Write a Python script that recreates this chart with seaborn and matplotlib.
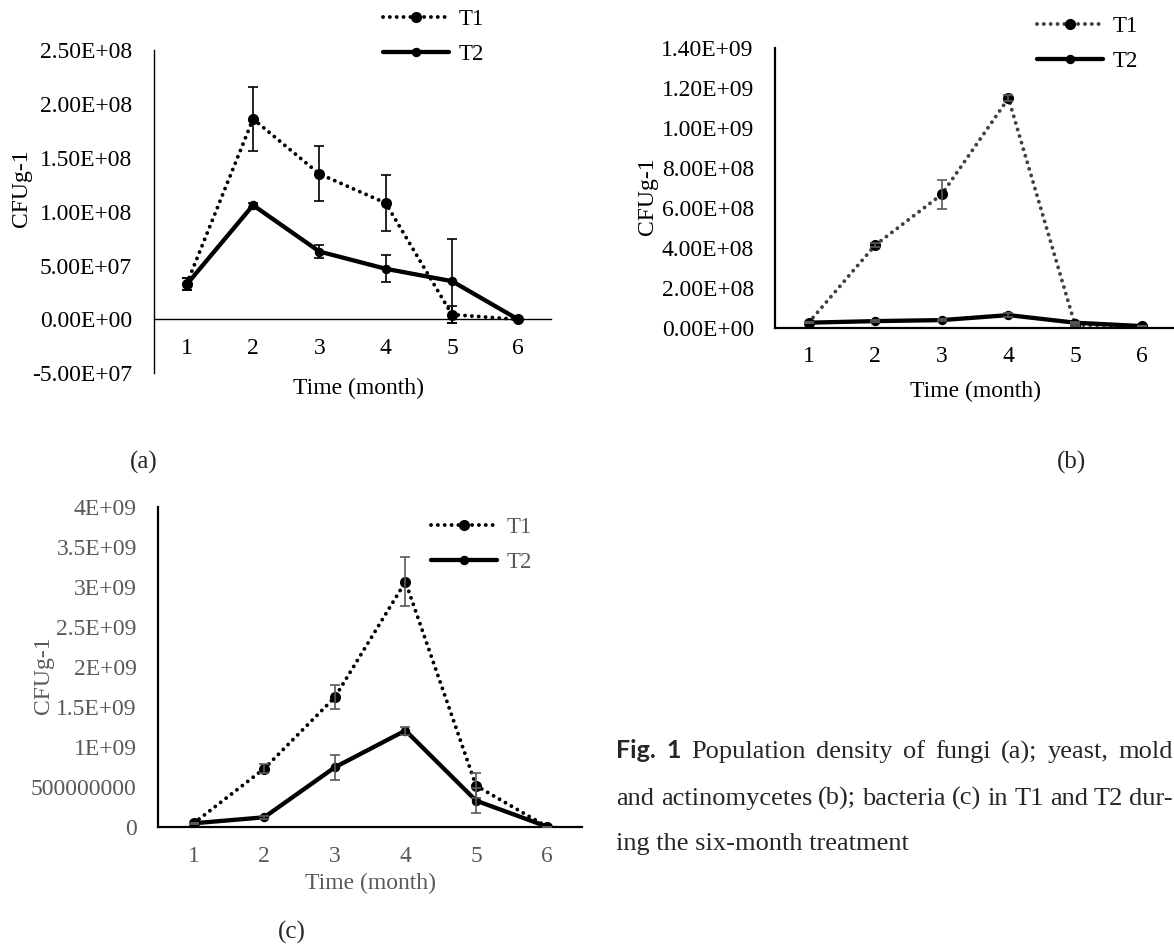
import numpy as np
import matplotlib
matplotlib.use("Agg")
import matplotlib.pyplot as plt
import seaborn as sns
from matplotlib.ticker import FixedLocator, FixedFormatter

# ---------------- data ----------------
months = [1, 2, 3, 4, 5, 6]
month_labels = ["1", "2", "3", "4", "5", "6"]

# (a) fungi
a_t1 = [3.3e7, 1.86e8, 1.35e8, 1.08e8, 0.45e7, 0.0]
a_t1_err = [0.55e7, 3.0e7, 2.55e7, 2.6e7, 0.8e7, 0.0]
a_t2 = [3.25e7, 1.06e8, 6.3e7, 4.7e7, 3.55e7, 0.0]
a_t2_err = [0.55e7, 0.2e7, 0.6e7, 1.24e7, 3.9e7, 0.0]
a_yticks = [-5e7, 0, 5e7, 1e8, 1.5e8, 2e8, 2.5e8]
a_yticklabels = ["-5.00E+07", "0.00E+00", "5.00E+07", "1.00E+08",
                 "1.50E+08", "2.00E+08", "2.50E+08"]

# (b) yeast, mold and actinomycetes
b_t1 = [2.5e7, 4.13e8, 6.67e8, 1.147e9, 1.35e7, 8e6]
b_t1_err = [0.3e7, 1.2e7, 7.3e7, 1.5e7, 0.3e7, 0.0]
b_t2 = [2.5e7, 3.3e7, 3.8e7, 6.3e7, 2.5e7, 8e6]
b_t2_err = [0.2e7, 0.3e7, 0.5e7, 0.8e7, 0.3e7, 0.1e7]
b_yticks = [0, 2e8, 4e8, 6e8, 8e8, 1e9, 1.2e9, 1.4e9]
b_yticklabels = ["0.00E+00", "2.00E+08", "4.00E+08", "6.00E+08",
                 "8.00E+08", "1.00E+09", "1.20E+09", "1.40E+09"]

# (c) bacteria
c_t1 = [5e7, 7.33e8, 1.625e9, 3.07e9, 5.2e8, 1e7]
c_t1_err = [1e7, 5.8e7, 1.5e8, 3.04e8, 1.55e8, 0.0]
c_t2 = [5e7, 1.25e8, 7.5e8, 1.21e9, 3.33e8, 1e7]
c_t2_err = [1e7, 2e7, 1.6e8, 5e7, 1.58e8, 0.0]
c_yticks = [0, 5e8, 1e9, 1.5e9, 2e9, 2.5e9, 3e9, 3.5e9, 4e9]
c_yticklabels = ["0", "500000000", "1E+09", "1.5E+09", "2E+09",
                 "2.5E+09", "3E+09", "3.5E+09", "4E+09"]

series_labels = ["T1", "T2"]
x_title = "Time (month)"
y_title = "CFUg-1"

caption_l1 = ["Population", "density", "of", "fungi", "(a);", "yeast,", "mold"]
caption_l2 = "and actinomycetes (b); bacteria (c) in T1 and T2 dur-"
caption_l3 = "ing the six-month treatment"

# ---------------- style ----------------
sns.set_style("white")
plt.rcParams["font.family"] = ["Liberation Serif", "DejaVu Serif"]

W, H = 1174, 949
fig = plt.figure(figsize=(W / 100, H / 100), dpi=100)


def axes_px(l, t, r, b):
    return fig.add_axes([l / W, 1 - b / H, (r - l) / W, (b - t) / H])


def panel(ax, t1, t1e, t2, t2e, ylim, yticks, yticklabels, t1_color,
          err_color, text_color, spine_w, zero_axis, ylab_xy, xlab_xy,
          leg_xy):
    ax.set_facecolor("none")
    sns.lineplot(x=months, y=t2, ax=ax, color="black", linewidth=3.1,
                 marker="o", markersize=6.8, markeredgewidth=0,
                 errorbar=None, zorder=3)
    l2 = ax.lines[-1]
    sns.lineplot(x=months, y=t1, ax=ax, color=t1_color, linewidth=2.8,
                 linestyle=(0, (0.01, 1.75)), marker="o", markersize=8,
                 markerfacecolor="black", markeredgewidth=0,
                 errorbar=None, zorder=2.5)
    l1 = ax.lines[-1]
    l1.set_dash_capstyle("round")
    ax.errorbar(months, t1, yerr=t1e, fmt="none", ecolor=err_color,
                elinewidth=1.2, capsize=3.6, capthick=1.2, zorder=4)
    ax.errorbar(months, t2, yerr=t2e, fmt="none", ecolor=err_color,
                elinewidth=1.2, capsize=3.6, capthick=1.2, zorder=4)

    ax.set_xlim(0.5, 6.5)
    ax.set_ylim(*ylim)
    ax.xaxis.set_major_locator(FixedLocator(months))
    ax.xaxis.set_major_formatter(FixedFormatter(month_labels))
    ax.yaxis.set_major_locator(FixedLocator(yticks))
    ax.yaxis.set_major_formatter(FixedFormatter(yticklabels))
    ax.tick_params(axis="x", length=0, pad=13.5, labelsize=17,
                   colors=text_color)
    ax.tick_params(axis="y", length=0, pad=15.5, labelsize=17,
                   colors=text_color)
    for s in ["top", "right"]:
        ax.spines[s].set_visible(False)
    for s in ["left", "bottom"]:
        ax.spines[s].set_color("black")
        ax.spines[s].set_linewidth(spine_w)
    if zero_axis:
        ax.spines["bottom"].set_position(("data", 0))

    ax.set_ylabel(y_title, fontsize=17, color=text_color, va="center")
    ax.yaxis.set_label_coords(*ylab_xy)
    ax.set_xlabel(x_title, fontsize=17, color=text_color, va="center")
    ax.xaxis.set_label_coords(*xlab_xy)

    leg = ax.legend([l1, l2], series_labels, loc="center left",
                    bbox_to_anchor=(leg_xy[0] / W, 1 - leg_xy[1] / H),
                    bbox_transform=fig.transFigure, frameon=False,
                    fontsize=16.5, handlelength=2.9, handletextpad=0.4,
                    labelspacing=0.6, borderpad=0, borderaxespad=0)
    for t in leg.get_texts():
        t.set_color(text_color)


# ---- panel (a)
axa = axes_px(153.6, 50, 551.4, 373.3)
panel(axa, a_t1, a_t1_err, a_t2, a_t2_err, (-5e7, 2.5e8), a_yticks,
      a_yticklabels, "black", "black", "black", 1.0, True,
      (-0.3316, 0.573), (0.516, -0.0455), (383, 37))

# ---- panel (b)
axb = axes_px(775.3, 47.7, 1175, 327.7)
panel(axb, b_t1, b_t1_err, b_t2, b_t2_err, (0, 1.4e9), b_yticks,
      b_yticklabels, "#404040", "#595959", "black", 1.6, False,
      (-0.3185, 0.47), (0.5, -0.2286), (1036.7, 44))

# ---- panel (c)
axc = axes_px(158.3, 507.3, 582, 827.3)
panel(axc, c_t1, c_t1_err, c_t2, c_t2_err, (0, 4e9), c_yticks,
      c_yticklabels, "black", "#595959", "#595959", 1.6, False,
      (-0.27, 0.476), (0.502, -0.175), (430.7, 545))

# ---- panel letters
fig.text(144 / W, 1 - 462 / H, "(a)", fontsize=18, ha="center", va="center")
fig.text(1072 / W, 1 - 462 / H, "(b)", fontsize=18, ha="center", va="center")
fig.text(291.7 / W, 1 - 932.7 / H, "(c)", fontsize=18, ha="center",
         va="center")

# ---- caption (justified)
renderer = fig.canvas.get_renderer()
cap_size = 19
x0, x1 = 616.5, 1173.0


def justified(words, props, baseline):
    texts = []
    for w, p in zip(words, props):
        texts.append(fig.text(0, 1 - baseline / H, w, va="baseline",
                              ha="left", **p))
    widths = [t.get_window_extent(renderer).width for t in texts]
    gap = (x1 - x0 - sum(widths)) / (len(words) - 1)
    x = x0
    for t, wd in zip(texts, widths):
        t.set_x(x / W)
        x += wd + gap


bold = dict(fontsize=18, fontweight="bold", family=["Lato", "DejaVu Sans"])
serif = dict(fontsize=cap_size)
l1_words = ["Fig.", "1"] + caption_l1
justified(l1_words, [bold, bold] + [serif] * len(caption_l1), 758.3)
l2_words = caption_l2.split(" ")
justified(l2_words, [serif] * len(l2_words), 805)
fig.text(x0 / W, 1 - 850 / H, caption_l3, va="baseline", ha="left",
         fontsize=cap_size)

fig.savefig("out.png", dpi=100)
